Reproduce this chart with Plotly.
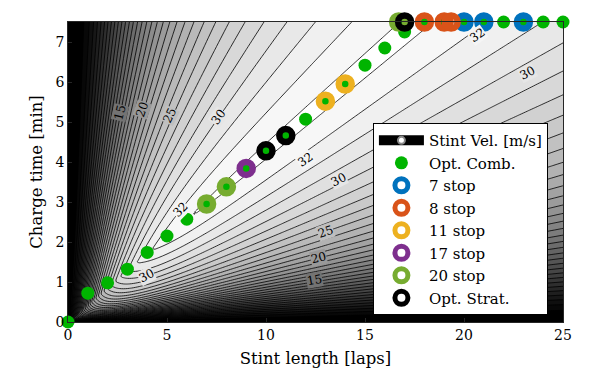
import numpy as np
import plotly.graph_objects as go

# optimal charge time for each stint length (green dots)
comb_laps = [0, 1, 2, 3, 4, 5, 6, 7, 8, 9, 10, 11, 12, 13, 14, 15, 16, 17,
             17, 18, 19, 20, 21, 22, 23, 24, 25]
comb_time = [0, 0.72, 0.98, 1.32, 1.74, 2.15, 2.57, 2.95, 3.38, 3.84, 4.28, 4.66,
             5.07, 5.52, 5.95, 6.42, 6.85, 7.25,
             7.5, 7.5, 7.5, 7.5, 7.5, 7.5, 7.5, 7.5, 7.5]

# stints used by each strategy
stop7_laps = [20, 21, 23]
stop7_time = [7.5, 7.5, 7.5]
stop8_laps = [18, 19, 19.35]
stop8_time = [7.5, 7.5, 7.5]
stop11_laps = [13, 14]
stop11_time = [5.52, 5.95]
stop17_laps = [9]
stop17_time = [3.84]
stop20_laps = [7, 8, 16.7]
stop20_time = [2.95, 3.38, 7.5]
opt_laps = [10, 11, 17]
opt_time = [4.28, 4.66, 7.5]

# contour labels as placed in the original
label_lev = [15, 20, 25, 30, 15, 20, 25, 30, 30, 30, 32, 32, 32]
label_laps = [2.63, 3.74, 5.15, 7.6, 12.47, 12.63, 12.98, 13.64, 23.2, 3.94, 5.66, 11.97, 20.7]
label_time = [5.22, 5.3, 5.17, 5.12, 1.05, 1.6, 2.26, 3.55, 6.22, 1.15, 2.8, 4.05, 7.17]
label_angle = [-76, -71, -64, -54, -10, -14, -19, -27, -27, -28, -45, -35, -35]

# stint velocity model  [m/s]
V_PEAK = 33.3      # velocity on the optimal ridge
K_RIDGE = 0.425    # optimal charge time per lap [min/lap]
N0 = 1.3           # short stint penalty [laps]
A_LO, B_LO = 0.2, 0.02      # under-charged side
B_HI, C_HI = 0.012, 0.004   # over-charged side

laps = np.linspace(0, 25, 251)
charge = np.linspace(0, 7.5, 151)
N, T = np.meshgrid(laps, charge)
s = T / np.maximum(N, 1e-6)
r = np.maximum(s / K_RIDGE, 1e-9)
xr = 1 / r - 1
inv_lo = (1 + A_LO * xr + B_LO * xr**2) / V_PEAK
d = s - K_RIDGE
inv_hi = 1 / V_PEAK + B_HI * d + C_HI * d**2
vel = 1 / np.where(r < 1, inv_lo, inv_hi) * (1 - np.exp(-N / N0))

SERIF = "DejaVu Serif"
fig = go.Figure()

fig.add_contour(x=laps, y=charge, z=vel, colorscale=[[0, 'black'], [1, 'white']],
                zmin=0, zmax=V_PEAK, showscale=False, hoverinfo='skip',
                contours=dict(start=1, end=33, size=1, coloring='fill'),
                line=dict(width=0.8, color='black'), showlegend=False)

for lev, lx, ly, ang in zip(label_lev, label_laps, label_time, label_angle):
    g = int(round(255 * lev / V_PEAK))
    fig.add_annotation(x=lx, y=ly, text=str(lev), showarrow=False, textangle=ang,
                       bgcolor=f'rgb({g},{g},{g})', borderpad=0,
                       font=dict(family=SERIF, size=12, color='black'))

# legend entry for the contour map
fig.add_scatter(x=[None], y=[None], mode='lines+markers', name='Stint Vel. [m/s]',
                line=dict(color='black', width=10),
                marker=dict(symbol='circle', size=7, color='white', line=dict(color='#888', width=2)))

fig.add_scatter(x=comb_laps, y=comb_time, mode='markers', name='Opt. Comb.', cliponaxis=False,
                marker=dict(size=13, color='#00b400'))

rings = [
    ('7 stop', stop7_laps, stop7_time, '#0072BD'),
    ('8 stop', stop8_laps, stop8_time, '#D95319'),
    ('11 stop', stop11_laps, stop11_time, '#EDB120'),
    ('17 stop', stop17_laps, stop17_time, '#7E2F8E'),
    ('20 stop', stop20_laps, stop20_time, '#77AC30'),
    ('Opt. Strat.', opt_laps, opt_time, '#000000'),
]
for name, xs, ys, c in rings:
    fig.add_scatter(x=xs, y=ys, mode='markers', name=name, cliponaxis=False,
                    marker=dict(symbol='circle-open', size=13, color=c, line=dict(width=6.5, color=c)))

axis_style = dict(showline=True, mirror=True, linecolor='#262626', linewidth=0.6,
                  ticks='inside', ticklen=4, tickcolor='#262626', showgrid=False,
                  zeroline=False, automargin=False, tickfont=dict(size=14))
fig.update_xaxes(range=[0, 25], tickvals=[0, 5, 10, 15, 20, 25],
                 title=dict(text='Stint length [laps]', font=dict(size=16.5), standoff=10), **axis_style)
fig.update_yaxes(range=[0, 7.5], tickvals=list(range(8)),
                 title=dict(text='Charge time [min]', font=dict(size=16.5), standoff=8), **axis_style)
# page body adds an 8px offset, so the margins are shifted to compensate
fig.update_layout(width=598, height=376, margin=dict(l=60, r=43, t=14, b=62),
                  plot_bgcolor='white', paper_bgcolor='white',
                  font=dict(family=SERIF, size=16, color='black'),
                  legend=dict(x=0.616, y=0.663, xanchor='left', yanchor='top',
                              bgcolor='white', bordercolor='black', borderwidth=1,
                              itemwidth=45, font=dict(family=SERIF, size=15)))

fig.write_html("out.html")
